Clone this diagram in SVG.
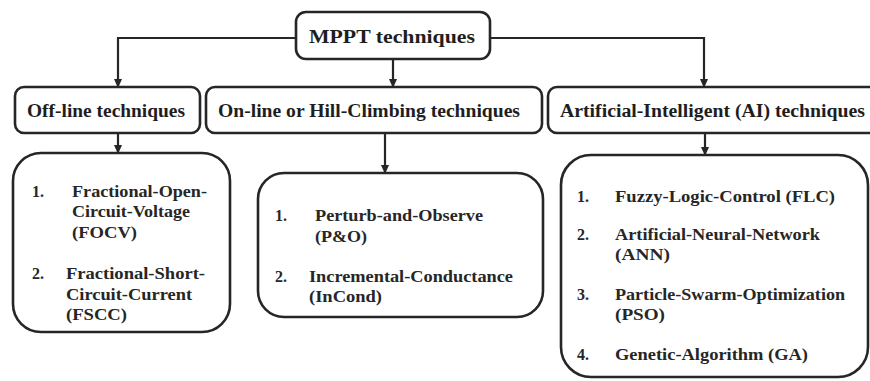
<svg xmlns="http://www.w3.org/2000/svg" width="870" height="381" viewBox="0 0 870 381">
<defs>
<marker id="arr" viewBox="0 0 10 10" refX="9" refY="5" markerWidth="9" markerHeight="9" orient="auto" markerUnits="userSpaceOnUse">
<path d="M0,0.5 L10,5 L0,9.5 z" fill="#262626"/>
</marker>
<style>
.box{fill:#ffffff;stroke:#262626;stroke-width:2.6}
.hd{font-weight:bold;font-size:18px;fill:#1e1e1e}
.tx{font-weight:bold;font-size:16px;fill:#262626}
.con{fill:none;stroke:#262626;stroke-width:2.2;marker-end:url(#arr)}
</style>
</defs>
<rect width="870" height="381" fill="#ffffff"/>
<g id="connectors">
<path class="con" d="M296,38 H118 V87"/>
<path class="con" d="M490,38 H704 V87"/>
<path class="con" d="M393,59 V87"/>
<path class="con" d="M118,133 V153"/>
<path class="con" d="M385,133 V173"/>
<path class="con" d="M705,133 V155"/>
</g>
<g font-family="Liberation Serif, serif">
<g id="mppt">
<rect class="box" x="296" y="12" width="194" height="47" rx="10"/>
<text class="hd" x="309" y="43" font-size="19" textLength="166" lengthAdjust="spacingAndGlyphs">MPPT techniques</text>
</g>
<g id="offline">
<rect class="box" x="15" y="87" width="185" height="46" rx="9"/>
<text class="hd" x="27" y="117" textLength="158" lengthAdjust="spacingAndGlyphs">Off-line techniques</text>
</g>
<g id="online">
<rect class="box" x="206" y="87" width="336" height="46" rx="9"/>
<text class="hd" x="218" y="117" textLength="302" lengthAdjust="spacingAndGlyphs">On-line or Hill-Climbing techniques</text>
</g>
<g id="ai">
<rect class="box" x="548" y="87" width="330" height="46" rx="9"/>
<text class="hd" x="560" y="117" textLength="305" lengthAdjust="spacingAndGlyphs">Artificial-Intelligent (AI) techniques</text>
</g>
<g id="offline-list">
<rect class="box" x="13" y="153" width="217" height="179" rx="28"/>
<text class="tx" x="32" y="197">1.</text>
<text class="tx" x="72" y="197" textLength="135" lengthAdjust="spacingAndGlyphs">Fractional-Open-</text>
<text class="tx" x="72" y="217" textLength="118" lengthAdjust="spacingAndGlyphs">Circuit-Voltage</text>
<text class="tx" x="72" y="238" textLength="65" lengthAdjust="spacingAndGlyphs">(FOCV)</text>
<text class="tx" x="32" y="279">2.</text>
<text class="tx" x="66" y="279" textLength="139" lengthAdjust="spacingAndGlyphs">Fractional-Short-</text>
<text class="tx" x="66" y="300" textLength="126" lengthAdjust="spacingAndGlyphs">Circuit-Current</text>
<text class="tx" x="66" y="320" textLength="61" lengthAdjust="spacingAndGlyphs">(FSCC)</text>
</g>
<g id="online-list">
<rect class="box" x="258" y="173" width="285" height="144" rx="26"/>
<text class="tx" x="275" y="221">1.</text>
<text class="tx" x="315" y="221" textLength="168" lengthAdjust="spacingAndGlyphs">Perturb-and-Observe</text>
<text class="tx" x="315" y="242" textLength="52" lengthAdjust="spacingAndGlyphs">(P&amp;O)</text>
<text class="tx" x="275" y="282">2.</text>
<text class="tx" x="309" y="282" textLength="204" lengthAdjust="spacingAndGlyphs">Incremental-Conductance</text>
<text class="tx" x="309" y="302" textLength="73" lengthAdjust="spacingAndGlyphs">(InCond)</text>
</g>
<g id="ai-list">
<rect class="box" x="561" y="155" width="307" height="222" rx="30"/>
<text class="tx" x="577" y="202">1.</text>
<text class="tx" x="615" y="202" textLength="220" lengthAdjust="spacingAndGlyphs">Fuzzy-Logic-Control (FLC)</text>
<text class="tx" x="577" y="240">2.</text>
<text class="tx" x="615" y="240" textLength="205" lengthAdjust="spacingAndGlyphs">Artificial-Neural-Network</text>
<text class="tx" x="615" y="260" textLength="55" lengthAdjust="spacingAndGlyphs">(ANN)</text>
<text class="tx" x="577" y="300">3.</text>
<text class="tx" x="615" y="300" textLength="230" lengthAdjust="spacingAndGlyphs">Particle-Swarm-Optimization</text>
<text class="tx" x="615" y="320" textLength="50" lengthAdjust="spacingAndGlyphs">(PSO)</text>
<text class="tx" x="577" y="360">4.</text>
<text class="tx" x="615" y="360" textLength="193" lengthAdjust="spacingAndGlyphs">Genetic-Algorithm (GA)</text>
</g>
</g>
</svg>
